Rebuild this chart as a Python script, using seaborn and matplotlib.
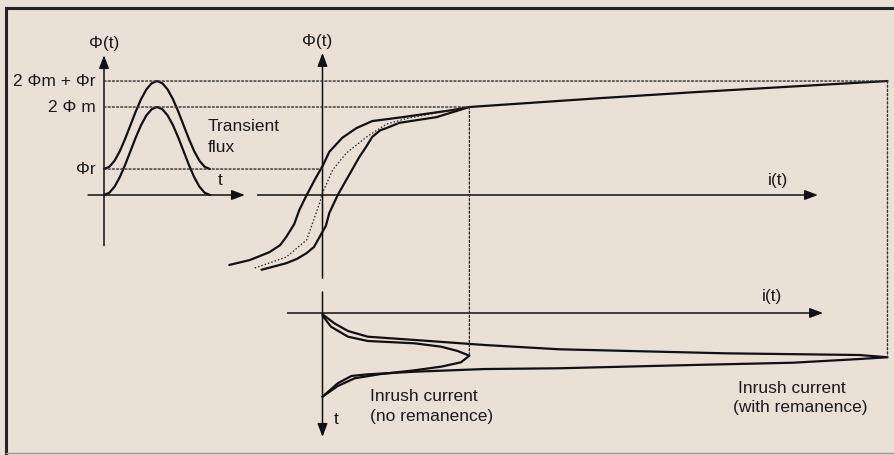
import matplotlib
matplotlib.use('Agg')
import matplotlib.pyplot as plt
import seaborn as sns
from matplotlib.patches import ConnectionPatch

# transient flux (time in ms, flux in units of phi_m)
trans_t = [0, 1, 2, 3, 4, 5, 6, 7, 8, 9, 10, 11, 12, 13, 14, 15, 16, 17, 18, 19, 20]
trans_flux = [0, 0.05, 0.19, 0.41, 0.69, 1.0, 1.31, 1.59, 1.81, 1.95, 2.0,
              1.95, 1.81, 1.59, 1.31, 1.0, 0.69, 0.41, 0.19, 0.05, 0]
trans_flux_rem = [0.59, 0.64, 0.78, 1.0, 1.28, 1.59, 1.9, 2.18, 2.4, 2.54, 2.59,
                  2.54, 2.4, 2.18, 1.9, 1.59, 1.28, 1.0, 0.78, 0.64, 0.59]
flux_levels = [0.59, 2.0, 2.59]
flux_labels = ['Φr', '2 Φ m', '2 Φm + Φr']

# magnetisation curve (current in arbitrary units, flux in units of phi_m)
mag_i_left = [-1.65, -1.29, -0.94, -0.75, -0.64, -0.5, -0.41, -0.28, -0.11, 0.01, 0.12,
              0.35, 0.6, 0.88, 1.42, 2.3, 2.6]
mag_phi_left = [-1.59, -1.48, -1.3, -1.14, -0.95, -0.66, -0.34, 0.0, 0.41, 0.68, 0.98,
                1.3, 1.52, 1.68, 1.77, 1.93, 2.0]
mag_i_right = [-1.08, -0.64, -0.45, -0.28, -0.15, -0.05, 0.06, 0.12, 0.27, 0.42, 0.54,
               0.65, 0.77, 0.88, 1.02, 1.13, 1.36, 2.02, 2.6]
mag_phi_right = [-1.7, -1.55, -1.45, -1.32, -1.18, -0.95, -0.7, -0.41, 0.0, 0.34, 0.61,
                 0.86, 1.09, 1.32, 1.47, 1.52, 1.64, 1.77, 2.0]
mag_i_mid = [-1.2, -0.64, -0.28, -0.05, 0.0, 0.18, 0.42, 0.78, 1.13, 1.49, 2.6]
mag_phi_mid = [-1.66, -1.41, -1.02, -0.18, 0.05, 0.57, 0.95, 1.32, 1.61, 1.74, 2.0]
sat_i = [2.6, 4.9, 6.62, 10.0]
sat_phi = [2.0, 2.2, 2.34, 2.59]

# inrush current against time (ms)
inrush_i = [0.0, 0.15, 0.45, 0.8, 1.63, 2.1, 2.39, 2.6,
            2.45, 2.1, 1.63, 1.04, 0.57, 0.27, 0.0]
inrush_t = [0.3, 1.63, 2.82, 3.33, 3.61, 4.01, 4.52, 5.08,
            5.87, 6.39, 6.82, 7.26, 7.77, 8.69, 9.96]
inrush_rem_i = [0.0, 0.21, 0.45, 0.8, 1.63, 2.87, 4.19, 7.14, 9.5, 10.0,
                9.5, 8.32, 6.55, 4.19, 2.87, 1.63, 0.8, 0.51, 0.27, 0.0]
inrush_rem_t = [0.15, 1.23, 2.14, 2.82, 3.21, 3.81, 4.32, 4.8, 5.0, 5.27,
                5.48, 5.92, 6.19, 6.58, 6.67, 6.99, 7.3, 7.5, 8.37, 9.96]

W, H = 895, 455
BG = '#e9e1d5'
INK = '#111111'
DOT = '#333333'

sns.set_theme(style='white', rc={'figure.facecolor': BG, 'savefig.facecolor': BG})
plt.rcParams['font.family'] = ['Liberation Sans', 'DejaVu Sans']
plt.rcParams['font.size'] = 12.5
plt.rcParams['text.color'] = '#1a1a1a'

fig = plt.figure(figsize=(W / 100, H / 100), dpi=100)


def add_panel(ox, oy, sx, sy, xlim, ylim, down=False):
    """ Axes whose data origin sits at pixel (ox, oy) with sx, sy pixels per unit. """
    left, right = ox + xlim[0] * sx, ox + xlim[1] * sx
    if down:
        top, bottom = oy + ylim[0] * sy, oy + ylim[1] * sy
    else:
        top, bottom = oy - ylim[1] * sy, oy - ylim[0] * sy
    ax = fig.add_axes([left / W, 1 - bottom / H, (right - left) / W, (bottom - top) / H])
    ax.set_xlim(xlim)
    ax.set_ylim(ylim[::-1] if down else ylim)
    ax.patch.set_alpha(0)
    ax.axis('off')
    return ax


def curve(ax, x, y, **kw):
    kw.setdefault('color', INK)
    kw.setdefault('lw', 1.6)
    sns.lineplot(x=x, y=y, ax=ax, sort=False, estimator=None, **kw)


def axis_arrow(ax, start, tip):
    ax.annotate('', xy=tip, xytext=start, annotation_clip=False,
                arrowprops=dict(arrowstyle='-|>,head_length=0.8,head_width=0.3', color=INK,
                                lw=1.1, shrinkA=0, shrinkB=0, mutation_scale=10))


def dotted(ax_a, xy_a, ax_b, xy_b):
    fig.add_artist(ConnectionPatch(xyA=xy_a, coordsA=ax_a.transData, xyB=xy_b, coordsB=ax_b.transData,
                                   color=DOT, lw=1.0, linestyle=(0, (1.5, 1.5))))


# frame
frame = fig.add_axes([6.5 / W, 1 - 452.5 / H, 1.0, (452.5 - 8) / H])
frame.patch.set_alpha(0)
frame.set_xticks([])
frame.set_yticks([])
frame.spines['right'].set_visible(False)
for side in ['left', 'top']:
    frame.spines[side].set_color('#262322')
    frame.spines[side].set_linewidth(2.2)
frame.spines['bottom'].set_color('#9c968f')
frame.spines['bottom'].set_linewidth(1.0)

ax1 = add_panel(104, 195, 5.3, 44, (-4, 28), (-1.5, 3.6))
ax2 = add_panel(322.5, 195, 56.5, 44, (-1.8, 10.3), (-2.1, 3.6))
ax3 = add_panel(322.5, 313, 56.5, 8.4, (-1.8, 10.3), (-3.5, 16), down=True)

# dotted guide lines
for level in flux_levels:
    end_i = {0.59: 0.0, 2.0: sat_i[0], 2.59: sat_i[-1]}[level]
    dotted(ax1, (0, level), ax2, (end_i, level))
k = inrush_i.index(max(inrush_i))
dotted(ax2, (sat_i[0], sat_phi[0]), ax3, (inrush_i[k], inrush_t[k]))
k = inrush_rem_i.index(max(inrush_rem_i))
dotted(ax2, (sat_i[-1], sat_phi[-1]), ax3, (inrush_rem_i[k], inrush_rem_t[k]))

# transient flux panel
axis_arrow(ax1, (-3, 0), (26.6, 0))
axis_arrow(ax1, (0, -1.15), (0, 3.18))
curve(ax1, trans_t, trans_flux)
curve(ax1, trans_t, trans_flux_rem)
ax1.text(0, 3.45, 'Φ(t)', ha='center', va='center')
for level, label in zip(flux_levels, flux_labels):
    ax1.text(-1.6, level, label, ha='right', va='center')
ax1.text(19.6, 1.32, 'Transient\nflux', ha='left', va='center', linespacing=1.5)
ax1.text(21.9, 0.34, 't', ha='center', va='center')

# magnetisation panel
axis_arrow(ax2, (-1.15, 0), (8.77, 0))
axis_arrow(ax2, (0, -1.89), (0, 3.23))
curve(ax2, mag_i_left, mag_phi_left)
curve(ax2, mag_i_right, mag_phi_right)
curve(ax2, mag_i_mid, mag_phi_mid, lw=0.9, color='#222222', linestyle=(0, (1.2, 1.6)))
curve(ax2, sat_i, sat_phi)
ax2.text(-0.09, 3.48, 'Φ(t)', ha='center', va='center')
ax2.text(8.06, 0.34, 'i(t)', ha='center', va='center')

# inrush current panel
axis_arrow(ax3, (-0.62, 0), (8.86, 0))
axis_arrow(ax3, (0, -2.5), (0, 14.76))
curve(ax3, inrush_i, inrush_t)
curve(ax3, inrush_rem_i, inrush_rem_t)
ax3.text(7.96, -2.02, 'i(t)', ha='center', va='center')
ax3.text(0.24, 12.68, 't', ha='center', va='center')
ax3.text(0.84, 11.13, 'Inrush current\n(no remanence)', ha='left', va='center', linespacing=1.45)
ax3.text(7.35, 8.93, 'Inrush current', ha='left', va='center')
ax3.text(7.27, 11.3, '(with remanence)', ha='left', va='center')

fig.savefig('out.png', dpi=100)
